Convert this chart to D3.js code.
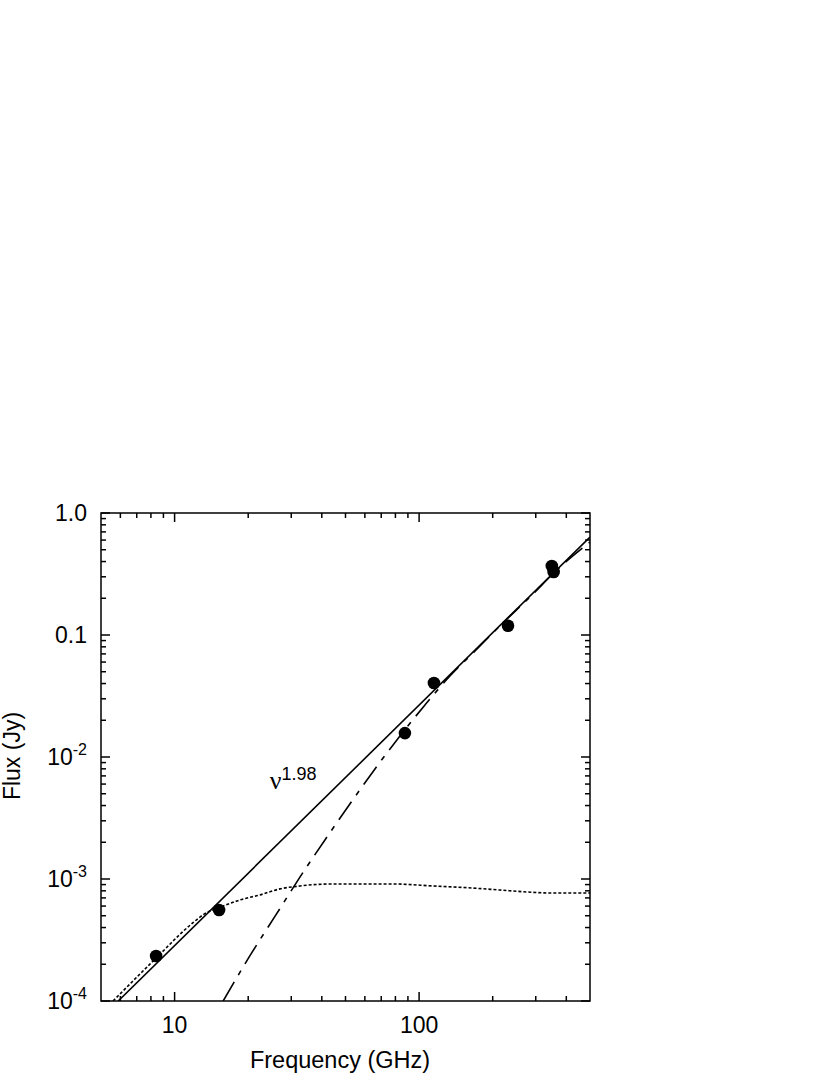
<!DOCTYPE html>
<html>
<head>
<meta charset="utf-8">
<script src="https://cdn.jsdelivr.net/npm/d3@7"></script>
<style>
  html, body { margin: 0; padding: 0; background: #fff; }
  svg { display: block; font-family: "Liberation Sans", Arial, sans-serif; }
</style>
</head>
<body>
<svg id="chart" width="830" height="1075"></svg>
<script>
// ---- data ----
const xDomain = [5, 500];
const yDomain = [1e-4, 1];

// observed fluxes: frequency (GHz), flux (Jy)
const obsFreq = [8.4, 15.2, 87.5, 115, 231, 349, 355];
const obsFlux = [2.34e-4, 5.57e-4, 0.0157, 0.0404, 0.119, 0.368, 0.328];

// solid line: total power law fit (nu^1.98)
const fitFreq = [5.88, 500];
const fitFlux = [1e-4, 0.635];

// dotted line: free-free / low-frequency component
const ffFreq = [5.6, 8.4, 11.6, 13.3, 15.3, 18.5, 22.3, 27.0, 32.6, 43.2, 78.2, 114, 166, 214, 276, 353, 500];
const ffFlux = [1e-4, 2.25e-4, 4.2e-4, 5.2e-4, 5.85e-4, 6.73e-4, 7.4e-4, 8.3e-4, 8.77e-4, 9.1e-4, 9.1e-4, 8.77e-4, 8.43e-4, 8.12e-4, 7.83e-4, 7.67e-4, 7.67e-4];

// dash-dot line: dust component
const dustFreq = [15.8, 20.3, 25.8, 32.6, 41.2, 52.1, 66.0, 83.5, 105.7, 133.7, 169.4, 214, 284, 377, 500];
const dustFlux = [1e-4, 2.34e-4, 4.98e-4, 1.04e-3, 2.09e-3, 4.12e-3, 7.98e-3, 0.01487, 0.0267, 0.0461, 0.074, 0.1186, 0.2047, 0.3605, 0.578];

const yMajor = [1e-4, 1e-3, 1e-2, 0.1, 1];
const yMajorLabels = [["10", "-4"], ["10", "-3"], ["10", "-2"], ["0.1", ""], ["1.0", ""]];
const xMajor = [10, 100];
const xMajorLabels = ["10", "100"];

const xTitle = "Frequency (GHz)";
const yTitle = "Flux (Jy)";
const annoBase = "ν";
const annoExp = "1.98";
const annoFreq = 24.5, annoFlux = 5.47e-3;

// ---- layout ----
const mLeft = 101, mTop = 513, W = 489, H = 488;
const svg = d3.select("#chart");
const x = d3.scaleLog().domain(xDomain).range([mLeft, mLeft + W]);
const y = d3.scaleLog().domain(yDomain).range([mTop + H, mTop]);

const xMinor = [];
for (let d = 1; d <= 100; d *= 10) for (let m = 2; m <= 9; m++) { const v = m * d; if (v > xDomain[0] && v < xDomain[1]) xMinor.push(v); }
const yMinor = [];
for (let d = 1e-4; d < 1; d *= 10) for (let m = 2; m <= 9; m++) yMinor.push(m * d);

const g = svg.append("g");
const sw = 1.5;

// ticks (inward on all four sides)
function addTicks(vals, len) {
  g.append("g").selectAll("line").data(vals).join("line")
    .attr("x1", d => x(d)).attr("x2", d => x(d))
    .attr("y1", mTop + H).attr("y2", mTop + H - len)
    .attr("stroke", "#000").attr("stroke-width", sw);
  g.append("g").selectAll("line").data(vals).join("line")
    .attr("x1", d => x(d)).attr("x2", d => x(d))
    .attr("y1", mTop).attr("y2", mTop + len)
    .attr("stroke", "#000").attr("stroke-width", sw);
}
function addYTicks(vals, len) {
  g.append("g").selectAll("line").data(vals).join("line")
    .attr("y1", d => y(d)).attr("y2", d => y(d))
    .attr("x1", mLeft).attr("x2", mLeft + len)
    .attr("stroke", "#000").attr("stroke-width", sw);
  g.append("g").selectAll("line").data(vals).join("line")
    .attr("y1", d => y(d)).attr("y2", d => y(d))
    .attr("x1", mLeft + W).attr("x2", mLeft + W - len)
    .attr("stroke", "#000").attr("stroke-width", sw);
}
addTicks(xMinor, 5);
addTicks(xMajor, 9);
addYTicks(yMinor, 5);
addYTicks(yMajor, 9);

// clip for curves
svg.append("clipPath").attr("id", "clip").append("rect")
  .attr("x", mLeft).attr("y", mTop).attr("width", W).attr("height", H);

const line = d3.line().x(d => x(d[0])).y(d => y(d[1])).curve(d3.curveMonotoneX);
const curves = g.append("g").attr("clip-path", "url(#clip)");

curves.append("path").datum(d3.zip(fitFreq, fitFlux))
  .attr("d", line).attr("fill", "none").attr("stroke", "#000").attr("stroke-width", 1.6);
curves.append("path").datum(d3.zip(ffFreq, ffFlux))
  .attr("d", line).attr("fill", "none").attr("stroke", "#000").attr("stroke-width", 1.6)
  .attr("stroke-dasharray", "3,2");
curves.append("path").datum(d3.zip(dustFreq, dustFlux))
  .attr("d", line).attr("fill", "none").attr("stroke", "#000").attr("stroke-width", 1.6)
  .attr("stroke-dasharray", "22,8,5,8");

// data points
g.append("g").selectAll("circle").data(d3.zip(obsFreq, obsFlux)).join("circle")
  .attr("cx", d => x(d[0])).attr("cy", d => y(d[1])).attr("r", 6.3).attr("fill", "#000");

// frame
g.append("rect").attr("x", mLeft).attr("y", mTop).attr("width", W).attr("height", H)
  .attr("fill", "none").attr("stroke", "#000").attr("stroke-width", sw);

// y tick labels
const yl = g.append("g").selectAll("text").data(d3.zip(yMajor, yMajorLabels)).join("text")
  .attr("text-anchor", "end").attr("font-size", 23)
  .attr("x", mLeft - 14).attr("y", d => y(d[0]) + 8);
yl.each(function(d) {
  const t = d3.select(this);
  t.append("tspan").text(d[1][0]);
  if (d[1][1]) t.append("tspan").attr("font-size", 16).attr("dy", -10).text(d[1][1]);
});
// x tick labels
g.append("g").selectAll("text").data(d3.zip(xMajor, xMajorLabels)).join("text")
  .attr("text-anchor", "middle").attr("font-size", 23)
  .attr("x", d => x(d[0])).attr("y", mTop + H + 32).text(d => d[1]);

// titles
g.append("text").attr("x", 340).attr("y", 1068).attr("text-anchor", "middle")
  .attr("font-size", 23.5).text(xTitle);
g.append("text").attr("transform", "translate(20,756) rotate(-90)").attr("text-anchor", "middle")
  .attr("font-size", 23).text(yTitle);

// annotation
const an = g.append("text").attr("x", x(annoFreq)).attr("y", y(annoFlux)).attr("font-size", 23);
an.append("tspan").attr("font-family", "'Liberation Serif', 'DejaVu Serif', serif").attr("font-size", 26).text(annoBase);
an.append("tspan").attr("font-size", 18).attr("dy", -9).text(annoExp);
</script>
</body>
</html>
